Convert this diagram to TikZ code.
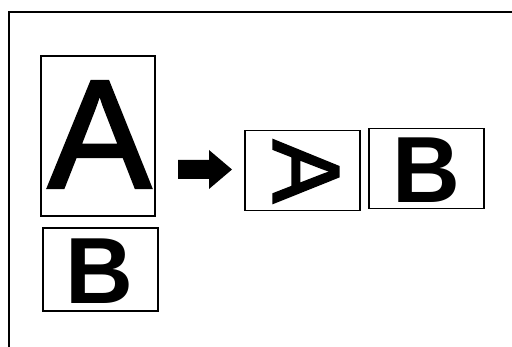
\documentclass[tikz,border=0pt]{standalone}
\usepackage{fontspec}
\setmainfont{Liberation Sans}
\newfontfamily\Afont[FakeBold=2]{Liberation Sans}
\begin{document}
\begin{tikzpicture}[x=1pt,y=-1pt,
  box/.style={draw=black,line width=1.1pt,inner sep=0pt},
  letterA/.style={inner sep=0pt,font=\Afont\fontsize{154}{154}\selectfont},
  letterB/.style={inner sep=0pt,font=\fontsize{94}{94}\selectfont\bfseries},
  letterAr/.style={inner sep=0pt,font=\Afont\fontsize{95}{95}\selectfont,rotate=-90}]
\useasboundingbox (0,0) rectangle (512,347);
\fill[white] (0,0) rectangle (512,347);
% outer frame
\draw[line width=2pt] (9,350) -- (9,12) -- (515,12);
% boxes
\node[box,minimum width=114pt,minimum height=160pt] (boxA) at (98,136) {};
\node[box,minimum width=115pt,minimum height=83pt] (boxB1) at (100.5,269.5) {};
\node[box,minimum width=115pt,minimum height=80pt] (boxAr) at (302.5,170.5) {};
\node[box,minimum width=115pt,minimum height=80pt] (boxB2) at (426.5,168.5) {};
% letters
\node[letterA] (tA) at (99.5,134.5) {A};
\node[letterB] (tB1) at (99,271) {B};
\node[letterAr] (tAr) at (306,171.5) {A};
\node[letterB] (tB2) at (426,170.5) {B};
% block arrow
\fill[black] (178,160) -- (209,160) -- (209,150) -- (232,169.5) -- (209,189) -- (209,179) -- (178,179) -- cycle;
\end{tikzpicture}
\end{document}
